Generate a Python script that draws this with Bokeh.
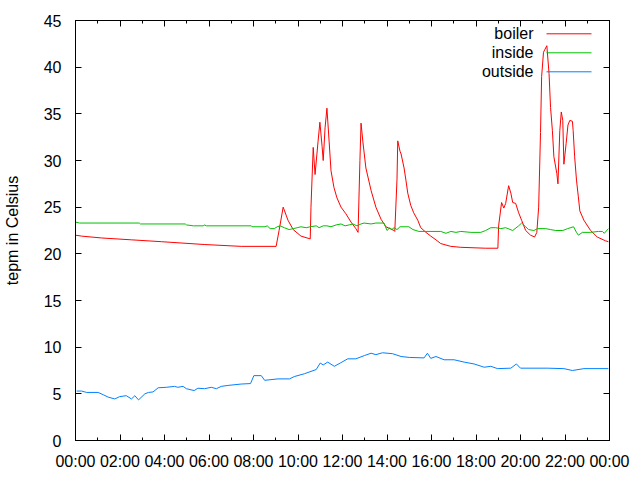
from bokeh.plotting import figure
from bokeh.models import LinearAxis, FixedTicker, Label, Arrow, Range1d, CustomJSTickFormatter
from bokeh.embed import file_html
from bokeh.resources import INLINE

# ---------------- data ----------------
tick_hours = [0, 2, 4, 6, 8, 10, 12, 14, 16, 18, 20, 22, 24]
tick_labels = ["00:00", "02:00", "04:00", "06:00", "08:00", "10:00", "12:00",
               "14:00", "16:00", "18:00", "20:00", "22:00", "00:00"]
minor_hours = list(range(25))
y_ticks = [0, 5, 10, 15, 20, 25, 30, 35, 40, 45]

boiler_time = ["00:00", "00:16", "01:10", "02:31", "03:52", "05:47", "07:27", "09:01",
               "09:09", "09:20", "09:33", "09:47", "10:08", "10:33", "10:35", "10:41",
               "10:46", "10:54", "10:59", "11:05", "11:08", "11:13", "11:18", "11:24",
               "11:29", "11:37", "11:45", "11:56", "12:09", "12:23", "12:36", "12:42",
               "12:47", "12:50", "12:55", "13:03", "13:17", "13:30", "13:44", "13:57",
               "14:19", "14:21", "14:27", "14:29", "14:35", "14:38", "14:46", "14:51",
               "14:56", "15:04", "15:12", "15:23", "15:31", "15:45", "15:58", "16:12",
               "16:25", "16:52", "17:19", "18:26", "18:59", "19:01", "19:09", "19:15",
               "19:20", "19:28", "19:34", "19:39", "19:47", "19:55", "20:03", "20:14",
               "20:27", "20:38", "20:44", "20:49", "20:54", "20:57", "21:02", "21:11",
               "21:17", "21:21", "21:26", "21:30", "21:38", "21:41", "21:46", "21:50",
               "21:54", "21:57", "22:03", "22:08", "22:13", "22:20", "22:22", "22:26",
               "22:31", "22:36", "22:40", "22:51", "23:09", "23:27", "23:49", "23:57"]
boiler_temp = [22.0, 21.9, 21.7, 21.5, 21.3, 21.0, 20.8, 20.8,
               22.5, 25.0, 23.6, 22.6, 21.9, 21.6, 25.0, 31.4,
               28.5, 32.0, 34.1, 31.5, 30.0, 33.5, 35.6, 32.0,
               28.9, 27.1, 26.0, 25.0, 24.3, 23.4, 22.7, 22.3,
               30.0, 34.0, 32.0, 29.2, 26.8, 25.0, 23.7, 22.9,
               22.5, 22.4, 28.0, 32.1, 31.0, 30.7, 29.2, 27.9,
               26.5, 25.2, 24.4, 23.6, 22.8, 22.3, 21.9, 21.5,
               21.1, 20.8, 20.7, 20.6, 20.6, 23.0, 25.5, 24.9,
               25.4, 27.3, 26.5, 25.5, 25.4, 24.4, 23.6, 22.5,
               22.0, 21.8, 22.3, 25.0, 33.0, 39.0, 41.6, 42.3,
               39.3, 35.7, 33.2, 30.4, 28.6, 27.5, 33.2, 35.2,
               34.3, 29.6, 31.8, 33.8, 34.3, 34.2, 33.2, 30.4,
               27.9, 26.1, 24.6, 23.6, 22.5, 21.8, 21.4, 21.3]

inside_time = ["00:00", "00:11", "02:52", "02:55", "04:56", "04:59", "05:18", "05:45",
               "05:47", "05:53", "07:54", "07:56", "08:31", "08:37", "08:45", "08:56",
               "09:04", "09:12", "09:23", "09:36", "09:47", "09:58", "10:08", "10:22",
               "10:33", "10:49", "10:57", "11:08", "11:18", "11:29", "11:43", "11:56",
               "12:07", "12:18", "12:28", "12:39", "12:50", "12:58", "13:17", "13:30",
               "13:52", "14:00", "14:08", "14:13", "14:19", "14:27", "14:35", "14:59",
               "15:10", "15:26", "16:25", "16:39", "16:52", "17:06", "17:19", "17:46",
               "18:13", "18:26", "18:40", "18:53", "19:07", "19:20", "19:39", "19:55",
               "20:03", "20:14", "20:22", "20:36", "20:46", "21:08", "21:21", "21:35",
               "21:54", "22:07", "22:23", "22:31", "22:36", "22:47", "23:09", "23:30",
               "23:41", "23:46", "23:57"]
inside_temp = [23.4, 23.3, 23.3, 23.2, 23.2, 23.1, 23.0, 23.0,
               23.1, 23.0, 23.0, 22.9, 22.9, 23.0, 22.7, 22.7,
               22.9, 23.0, 22.8, 22.6, 22.7, 22.8, 22.9, 22.8,
               22.9, 23.0, 22.8, 23.0, 23.0, 22.9, 23.1, 23.2,
               23.0, 23.1, 23.2, 23.0, 23.2, 23.3, 23.2, 23.3,
               23.3, 22.5, 22.8, 22.6, 22.8, 22.6, 22.9, 22.9,
               22.6, 22.4, 22.4, 22.2, 22.4, 22.3, 22.4, 22.3,
               22.3, 22.5, 22.8, 22.8, 22.7, 22.8, 22.5, 23.0,
               23.3, 22.9, 22.6, 22.5, 22.7, 22.7, 22.6, 22.5,
               22.5, 22.7, 22.9, 22.3, 22.0, 22.3, 22.3, 22.4,
               22.4, 22.2, 22.7]

outside_time = ["00:03", "00:16", "00:30", "01:01", "01:15", "01:28", "01:46", "01:59",
                "02:17", "02:31", "02:40", "02:50", "03:07", "03:17", "03:29", "03:43",
                "04:05", "04:27", "04:36", "04:50", "04:59", "05:20", "05:30", "05:48",
                "06:06", "06:20", "06:33", "06:51", "07:27", "07:52", "08:01", "08:21",
                "08:30", "09:06", "09:37", "09:50", "10:17", "10:49", "11:00", "11:08",
                "11:20", "11:38", "11:54", "12:14", "12:36", "12:59", "13:17", "13:30",
                "13:48", "14:15", "14:38", "15:00", "15:40", "15:49", "15:58", "16:12",
                "16:34", "17:01", "17:28", "17:55", "18:22", "18:40", "18:58", "19:34",
                "19:49", "20:00", "21:12", "21:57", "22:20", "22:51", "23:57"]
outside_temp = [5.3, 5.3, 5.15, 5.15, 4.9, 4.65, 4.45, 4.7,
                4.8, 4.45, 4.8, 4.35, 5.0, 5.15, 5.2, 5.65,
                5.7, 5.8, 5.7, 5.8, 5.55, 5.35, 5.6, 5.55,
                5.7, 5.55, 5.8, 5.9, 6.05, 6.1, 6.95, 6.95,
                6.45, 6.6, 6.6, 6.85, 7.15, 7.6, 8.3, 8.1,
                8.4, 7.95, 8.3, 8.75, 8.75, 9.1, 9.35, 9.2,
                9.4, 9.3, 9.0, 8.9, 8.85, 9.35, 8.8, 9.0,
                8.65, 8.65, 8.4, 8.2, 7.85, 7.95, 7.7, 7.75,
                8.2, 7.75, 7.75, 7.7, 7.5, 7.7, 7.7]

series_names = ["boiler", "inside", "outside"]
series_colors = ["#ff0000", "#00c000", "#0080ff"]


def to_hours(times):
    out = []
    for t in times:
        hh, mm = t.split(":")
        out.append(int(hh) + int(mm) / 60.0)
    return out


FONT = "Liberation Sans"
FS = "16px"

p = figure(width=632, height=472, output_backend="svg", toolbar_location=None,
           x_range=Range1d(0, 24), y_range=Range1d(0, 45),
           min_border_left=74, min_border_right=23, min_border_top=20,
           min_border_bottom=32)
p.grid.visible = False
p.outline_line_color = "black"
p.outline_line_width = 1
p.background_fill_color = "white"
p.border_fill_color = "white"

for times, temps, color in [(boiler_time, boiler_temp, series_colors[0]),
                            (inside_time, inside_temp, series_colors[1]),
                            (outside_time, outside_temp, series_colors[2])]:
    p.line(to_hours(times), temps, line_color=color, line_width=1)

xt = FixedTicker(ticks=tick_hours, minor_ticks=minor_hours)
yt = FixedTicker(ticks=y_ticks, minor_ticks=[])
overrides = {h: lab for h, lab in zip(tick_hours, tick_labels)}


def style(ax, labels=True):
    ax.axis_line_color = "black"
    ax.major_tick_in = 6
    ax.major_tick_out = 0
    ax.minor_tick_in = 3
    ax.minor_tick_out = 0
    ax.major_tick_line_color = "black"
    ax.minor_tick_line_color = "black"
    ax.major_label_text_font = FONT
    ax.major_label_text_color = "black"
    if labels:
        ax.major_label_text_font_size = FS
    else:
        ax.formatter = CustomJSTickFormatter(code="return ''")
        ax.major_label_text_font_size = "1px"
        ax.major_label_standoff = 0


xa = p.xaxis[0]
xa.ticker = xt
xa.major_label_overrides = overrides
style(xa)
xa.major_label_standoff = 12

ya = p.yaxis[0]
ya.ticker = yt
style(ya)
ya.major_label_standoff = 14
ya.axis_label = "tepm in Celsius"
ya.axis_label_text_font = FONT
ya.axis_label_text_font_size = FS
ya.axis_label_text_font_style = "normal"
ya.axis_label_text_color = "black"
ya.axis_label_standoff = 20

top = LinearAxis(ticker=FixedTicker(ticks=tick_hours, minor_ticks=minor_hours))
style(top, labels=False)
p.add_layout(top, "above")
right = LinearAxis(ticker=FixedTicker(ticks=y_ticks, minor_ticks=[]))
style(right, labels=False)
p.add_layout(right, "right")

# key (text left of sample, gnuplot style), frame-relative screen units
row_y = [406.7, 387.7, 368.7]
for name, color, yy in zip(series_names, series_colors, row_y):
    p.add_layout(Label(x=458, y=yy, x_units="screen", y_units="screen", text=name,
                       text_font=FONT, text_font_size=FS, text_color="black",
                       text_align="right", text_baseline="middle"))
    p.add_layout(Arrow(end=None, x_start=471, y_start=yy, x_end=516, y_end=yy,
                       start_units="screen", end_units="screen",
                       line_color=color, line_width=1))

open("out.html", "w").write(file_html(p, INLINE))
